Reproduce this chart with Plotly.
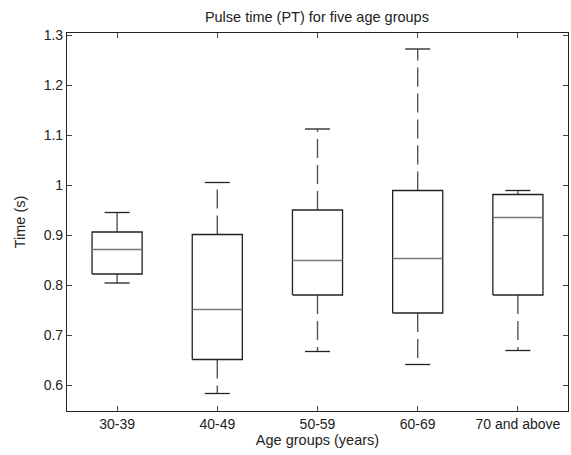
import plotly.graph_objects as go

categories = ["30-39", "40-49", "50-59", "60-69", "70 and above"]
lower_whisker = [0.804, 0.583, 0.667, 0.641, 0.669]
q1 = [0.822, 0.651, 0.780, 0.744, 0.780]
median = [0.871, 0.751, 0.849, 0.853, 0.935]
q3 = [0.906, 0.901, 0.950, 0.989, 0.981]
upper_whisker = [0.945, 1.005, 1.112, 1.272, 0.989]

BOX_HALF = 0.25
CAP_HALF = 0.125
EDGE = "#222222"

fig = go.Figure()
for i, cat in enumerate(categories):
    x = i + 1
    # dashed whiskers
    fig.add_trace(go.Scatter(x=[x, x, None, x, x],
                             y=[q3[i], upper_whisker[i], None, q1[i], lower_whisker[i]],
                             mode="lines", line=dict(color="#555555", width=1.4, dash="19px,7px"),
                             hoverinfo="skip", showlegend=False))
    # caps
    fig.add_trace(go.Scatter(x=[x - CAP_HALF, x + CAP_HALF, None, x - CAP_HALF, x + CAP_HALF],
                             y=[upper_whisker[i], upper_whisker[i], None, lower_whisker[i], lower_whisker[i]],
                             mode="lines", line=dict(color=EDGE, width=1.3),
                             hoverinfo="skip", showlegend=False))
    # box
    fig.add_trace(go.Scatter(x=[x - BOX_HALF, x + BOX_HALF, x + BOX_HALF, x - BOX_HALF, x - BOX_HALF],
                             y=[q1[i], q1[i], q3[i], q3[i], q1[i]],
                             mode="lines", line=dict(color=EDGE, width=1.3),
                             hoverinfo="skip", showlegend=False))
    # median
    fig.add_trace(go.Scatter(x=[x - BOX_HALF, x + BOX_HALF], y=[median[i], median[i]],
                             mode="lines", line=dict(color="#777777", width=1.3),
                             hoverinfo="skip", showlegend=False))

font_family = "Liberation Sans, Arial, sans-serif"
fig.update_layout(
    width=571, height=455,
    margin=dict(l=67, r=3, t=33, b=44),
    paper_bgcolor="white", plot_bgcolor="white",
    font=dict(family=font_family, size=14, color="#222222"),
    title=dict(text="Pulse time (PT) for five age groups", x=0.555, xanchor="center",
               y=0.962, yanchor="middle", font=dict(size=14.5)),
    showlegend=False,
)
fig.update_xaxes(range=[0.5, 5.5], tickmode="array", tickvals=[1, 2, 3, 4, 5], ticktext=categories,
                 ticks="inside", ticklen=5, tickcolor="#444444", showline=True, linecolor="#222222",
                 linewidth=1.2, mirror="ticks", showgrid=False, zeroline=False, automargin=False,
                 title=dict(text="Age groups (years)", standoff=1, font=dict(size=14.5)),
                 tickfont=dict(size=14))
fig.update_yaxes(range=[0.548, 1.304], tickmode="array",
                 tickvals=[0.6, 0.7, 0.8, 0.9, 1.0, 1.1, 1.2, 1.3],
                 ticktext=["0.6", "0.7", "0.8", "0.9", "1", "1.1", "1.2", "1.3"],
                 ticks="inside", ticklen=5, tickcolor="#444444", showline=True, linecolor="#222222",
                 linewidth=1.2, mirror="ticks", showgrid=False, zeroline=False, automargin=False,
                 title=dict(text="Time (s)", standoff=14, font=dict(size=14.5)),
                 tickfont=dict(size=14))

fig.write_html("out.html", config={"displayModeBar": False},
               post_script="document.body.style.margin='0';document.body.style.overflow='hidden';")
